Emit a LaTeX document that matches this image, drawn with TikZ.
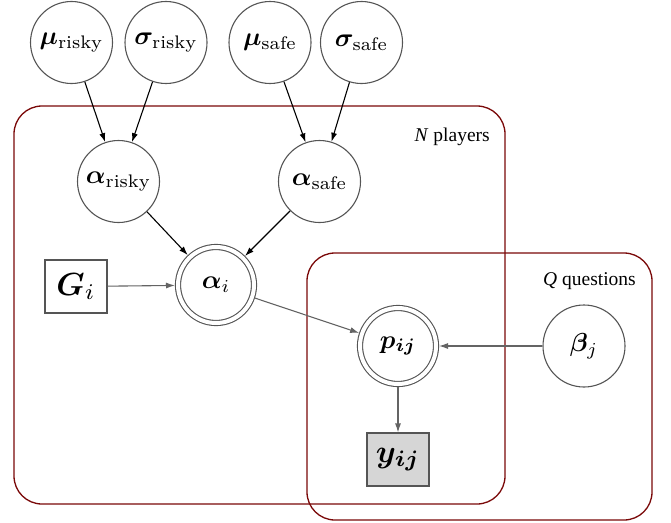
\documentclass[tikz,border=0pt]{standalone}
\usepackage{amsmath}
\usepackage{bm}
\usepackage{graphicx}
\usepackage{fontspec}
\newfontfamily\tnr{Liberation Serif}
\usetikzlibrary{arrows.meta}
\definecolor{platered}{RGB}{122,8,8}
\definecolor{nodegray}{RGB}{85,85,85}
\definecolor{arrgray}{RGB}{100,100,100}
\definecolor{obsfill}{RGB}{214,214,214}
\newcommand{\mtxt}[1]{\scalebox{2.6}{$#1$}}
\newcommand{\btxt}[1]{\scalebox{3.2}{$#1$}}
\tikzset{
  latnode/.style={circle, draw=nodegray, line width=1.1pt, minimum size=82pt, inner sep=0pt},
  detnode/.style={circle, draw=nodegray, line width=1.1pt, double=white, double distance=4pt,
    minimum size=76pt, inner sep=0pt, outer sep=3pt},
  boxnode/.style={rectangle, draw=nodegray, line width=1.1pt, minimum width=62pt, minimum height=53pt,
    inner sep=0pt},
  obsnode/.style={boxnode, fill=obsfill},
  plate/.style={draw=platered, line width=1.3pt, rounded corners=28pt},
  platelabel/.style={font=\tnr\fontsize{19.5}{22}\selectfont, inner sep=0pt, anchor=base east},
  blkarrow/.style={draw=black, line width=1.1pt, -{Latex[length=9pt,width=6pt]}},
  grayarrow/.style={draw=arrgray, line width=1.1pt, -{Latex[length=9pt,width=6pt]}}
}
\begin{document}
\begin{tikzpicture}[x=1pt,y=-1pt]
\useasboundingbox (0,0) rectangle (671,522);
% plates
\draw[plate] (14,106) rectangle (505,504);
\draw[plate] (307,253) rectangle (652,520);
\node[platelabel] (nlab) at (490,141) {\textit{N} players};
\node[platelabel] (qlab) at (636,285) {\textit{Q} questions};
% nodes
\node[latnode] (mur) at (71.5,42.5) {\mtxt{\bm{\mu}_{\text{risky}}}};
\node[latnode] (sigr) at (166,42.5) {\mtxt{\bm{\sigma}_{\text{risky}}}};
\node[latnode] (mus) at (270,42.5) {\mtxt{\bm{\mu}_{\text{safe}}}};
\node[latnode] (sigs) at (361.5,42.5) {\mtxt{\bm{\sigma}_{\text{safe}}}};
\node[latnode] (ar) at (118.5,181.5) {\mtxt{\bm{\alpha}_{\text{risky}}}};
\node[latnode] (as) at (319.5,181.5) {\mtxt{\bm{\alpha}_{\text{safe}}}};
\node[detnode] (ai) at (216,285) {\mtxt{\bm{\alpha}_i}};
\node[boxnode] (g) at (76,286.5) {\btxt{\bm{G}_i}};
\node[detnode] (p) at (398,346) {\mtxt{\bm{p_{ij}}}};
\node[latnode] (b) at (584,346) {\mtxt{\bm{\beta}_j}};
\node[obsnode] (y) at (398,459.5) {\btxt{\bm{y_{ij}}}};
% edges
\draw[blkarrow] (mur) -- (ar);
\draw[blkarrow] (sigr) -- (ar);
\draw[blkarrow] (mus) -- (as);
\draw[blkarrow] (sigs) -- (as);
\draw[blkarrow] (ar) -- (ai);
\draw[blkarrow] (as) -- (ai);
\draw[grayarrow] (g) -- (ai);
\draw[grayarrow] (ai) -- (p);
\draw[grayarrow] (b) -- (p);
\draw[grayarrow] (p) -- (y);
\end{tikzpicture}
\end{document}
